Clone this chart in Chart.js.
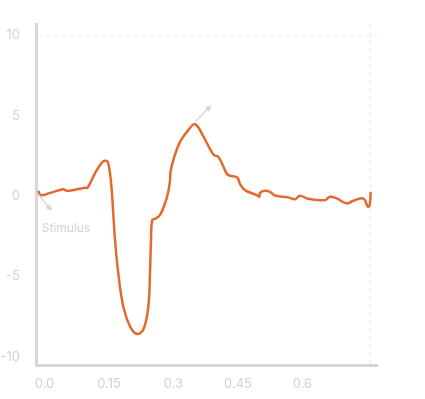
<!DOCTYPE html>
<html>
<head>
<meta charset="utf-8">
<script src="https://cdn.jsdelivr.net/npm/chart.js@4"></script>
<style>
  body { margin: 0; background: #fff; }
</style>
</head>
<body>
<canvas id="myChart" width="425" height="399"></canvas>
<script>
// time (s) and response values
const times = [
    -0.0144, -0.0088, 0.0128, 0.0437, 0.0516, 0.0709, 0.0942, 0.1, 0.1174, 0.133,
    0.1407, 0.147, 0.1523, 0.1563, 0.164, 0.1716, 0.1833, 0.1988,
    0.2144, 0.2298, 0.2414, 0.2453, 0.2477, 0.2507, 0.2586, 0.2686,
    0.2802, 0.2879, 0.2919, 0.293, 0.2995, 0.3151, 0.3344, 0.35, 0.3679, 0.3926,
    0.4042, 0.4198, 0.4274, 0.4484, 0.4547, 0.4663, 0.4935, 0.4995, 0.5012, 0.5128,
    0.5244, 0.536, 0.567, 0.5826, 0.5942, 0.6135, 0.6523, 0.664, 0.6795, 0.7028,
    0.7181, 0.7377, 0.7453, 0.7512, 0.7558, 0.7586
];
const values = [
    0.33, 0.06, 0.20, 0.42, 0.33, 0.40, 0.52, 0.52, 1.41, 2.07,
    2.2, 2.13, 1.41, 0.37, -2.73, -4.8, -6.88, -8.1,
    -8.57, -8.3, -6.88, -4.8, -2.73, -1.49, -1.39, -1.18,
    -0.45, 0.27, 1.0, 1.49, 2.24, 3.37, 4.1, 4.47, 3.79, 2.59,
    2.44, 1.61, 1.3, 1.16, 0.75, 0.37, 0.06, -0.04, 0.2, 0.33,
    0.27, 0.04, -0.08, -0.2, 0.02, -0.17, -0.25, -0.04, -0.14, -0.45,
    -0.29, -0.14, -0.25, -0.64, -0.62, 0.27
];
const xTickValues = [0, 0.15, 0.3, 0.45, 0.6, 0.759];
const xTickLabels = ['0.0', '0.15', '0.3', '0.45', '0.6', ''];
const yTickValues = [-10, -5, 0, 5, 10];

// arrows with optional text, anchored in data space
const notes = [
    { x: -0.0144, y: 0.1, dx: 13.5, dy: 16.5, text: 'Stimulus', tx: 3.5, ty: 34 },
    { x: 0.351, y: 4.63, dx: 16, dy: -16.5, text: '' }
];

const labelColor = '#d2d2d2';
const axisColor = '#d6d6d6';

const notesPlugin = {
    id: 'notes',
    afterDatasetsDraw(chart) {
        const ctx = chart.ctx;
        const xs = chart.scales.x, ys = chart.scales.y;
        ctx.save();
        notes.forEach(n => {
            const x0 = xs.getPixelForValue(n.x);
            const y0 = ys.getPixelForValue(n.y);
            const x1 = x0 + n.dx, y1 = y0 + n.dy;
            const ang = Math.atan2(n.dy, n.dx);
            ctx.strokeStyle = '#d4d4d4';
            ctx.fillStyle = '#d4d4d4';
            ctx.lineWidth = 1.3;
            ctx.beginPath();
            ctx.moveTo(x0, y0);
            ctx.lineTo(x1 - 4 * Math.cos(ang), y1 - 4 * Math.sin(ang));
            ctx.stroke();
            ctx.beginPath();
            ctx.moveTo(x1, y1);
            ctx.lineTo(x1 - 7 * Math.cos(ang - 0.45), y1 - 7 * Math.sin(ang - 0.45));
            ctx.lineTo(x1 - 7 * Math.cos(ang + 0.45), y1 - 7 * Math.sin(ang + 0.45));
            ctx.closePath();
            ctx.fill();
            if (n.text) {
                ctx.font = '12px Inter';
                ctx.fillStyle = labelColor;
                ctx.textAlign = 'left';
                ctx.textBaseline = 'middle';
                ctx.fillText(n.text, x0 + n.tx, y0 + n.ty);
            }
        });
        ctx.restore();
    }
};

const ctx = document.getElementById('myChart').getContext('2d');
new Chart(ctx, {
    type: 'line',
    data: {
        datasets: [{
            data: times.map((t, i) => ({ x: t, y: values[i] })),
            borderColor: '#e36a2f',
            borderWidth: 2.5,
            pointRadius: 0,
            fill: false,
            tension: 0.4
        }]
    },
    options: {
        responsive: false,
        animation: false,
        layout: {
            padding: { top: 24, right: 48, bottom: 0, left: 0 }
        },
        plugins: {
            legend: { display: false },
            tooltip: { enabled: false }
        },
        scales: {
            x: {
                type: 'linear',
                min: -0.0198,
                max: 0.7733,
                afterFit: scale => { scale.height = 34; },
                afterBuildTicks: axis => { axis.ticks = xTickValues.map(v => ({ value: v })); },
                grid: {
                    drawTicks: false,
                    color: c => c.tick && c.tick.value === 0.759 ? '#ededed' : 'transparent',
                    lineWidth: 1
                },
                border: { display: true, color: axisColor, width: 3, dash: [4, 4] },
                ticks: {
                    autoSkip: false,
                    maxRotation: 0,
                    padding: 11,
                    color: labelColor,
                    font: { family: 'Inter', size: 13 },
                    callback: (v, i) => xTickLabels[i]
                }
            },
            y: {
                min: -10.5,
                max: 10.7,
                afterFit: scale => { scale.width = 36; },
                afterBuildTicks: axis => { axis.ticks = yTickValues.map(v => ({ value: v })); },
                grid: {
                    drawTicks: false,
                    color: c => c.tick && c.tick.value === 10 ? '#ededed' : 'transparent',
                    lineWidth: 1
                },
                border: { display: true, color: axisColor, width: 3, dash: [4, 4] },
                ticks: {
                    padding: 16,
                    color: labelColor,
                    font: { family: 'Inter', size: 13 },
                    callback: v => String(v)
                }
            }
        }
    },
    plugins: [notesPlugin]
});
</script>
</body>
</html>
